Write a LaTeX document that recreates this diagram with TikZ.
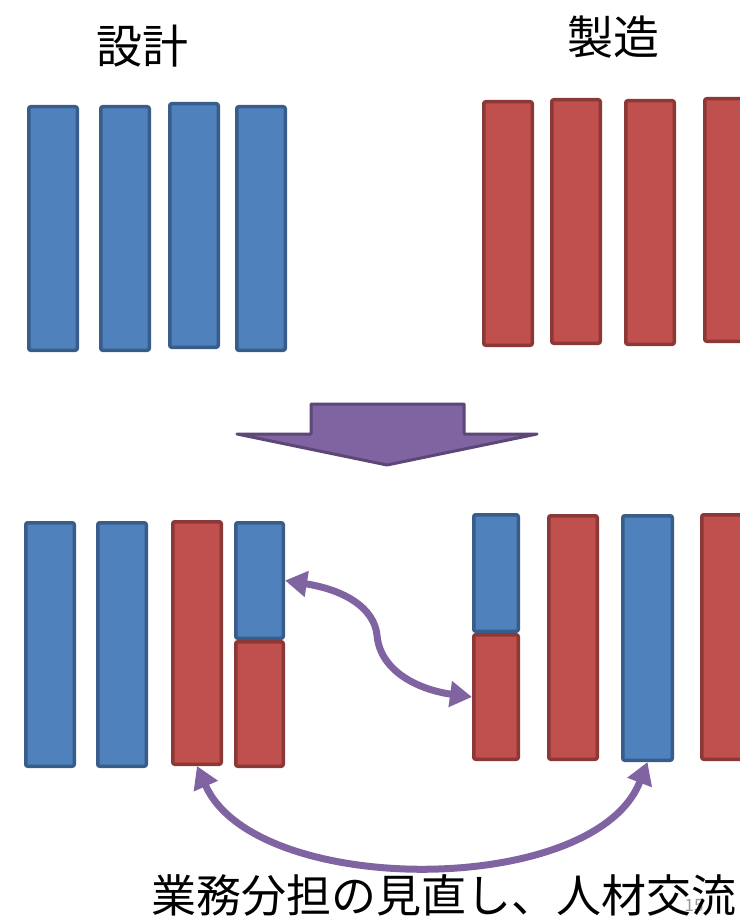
\documentclass[tikz,border=0pt]{standalone}
\usepackage{fontspec}
\newfontfamily\jpfont{Noto Sans CJK JP}
\usetikzlibrary{arrows.meta}
\definecolor{bfill}{HTML}{4F81BD}
\definecolor{bline}{HTML}{385D8A}
\definecolor{rfill}{HTML}{C0504D}
\definecolor{rline}{HTML}{8C3836}
\definecolor{pfill}{HTML}{8064A2}
\definecolor{pline}{HTML}{5C4776}
\tikzset{
  bar/.style={draw, line width=3.5pt, rounded corners=2pt, inner sep=0pt, minimum width=48.5pt},
  bluebar/.style={bar, fill=bfill, draw=bline},
  redbar/.style={bar, fill=rfill, draw=rline},
  titletext/.style={font=\jpfont\fontsize{46}{46}\selectfont, inner sep=0pt},
  swaparrow/.style={draw=pfill, line width=7pt,
    {Triangle[length=22pt,width=25pt]}-{Triangle[length=22pt,width=25pt]}},
  bigarrow/.style={fill=pfill, draw=pline, line width=3pt, line join=round},
}
\begin{document}
\begin{tikzpicture}[x=1pt,y=-1pt]
\useasboundingbox (0,0) rectangle (739,920);
% titles
\node[titletext] (tdesign) at (142,46) {設計};
\node[titletext] (tmanu) at (613,37) {製造};
% top blue bars
\node[bluebar, minimum height=243.5pt] (tb1) at (53,228.5) {};
\node[bluebar, minimum height=243.5pt] (tb2) at (125,228.5) {};
\node[bluebar, minimum height=243.5pt] (tb3) at (194,225.5) {};
\node[bluebar, minimum height=243.5pt] (tb4) at (261,228.5) {};
% top red bars
\node[redbar, minimum height=243.5pt] (tr1) at (508,223.5) {};
\node[redbar, minimum height=243.5pt] (tr2) at (576,221.5) {};
\node[redbar, minimum height=243.5pt] (tr3) at (650,222.5) {};
\node[redbar, minimum height=242.5pt] (tr4) at (729,220) {};
% big arrow
\path[bigarrow] (311,404) -- (464,404) -- (464,434) -- (537,434) -- (387,465)
  -- (237,434) -- (311,434) -- cycle;
% bottom left bars
\node[bluebar, minimum height=243.5pt] (bb1) at (50,644.5) {};
\node[bluebar, minimum height=243.5pt] (bb2) at (122,644.5) {};
\node[redbar, minimum height=242.5pt] (bb3) at (197,643) {};
\node[bluebar, minimum height=115.5pt, minimum width=47.5pt] (bb4t) at (259.5,580.5) {};
\node[redbar, minimum height=124.5pt, minimum width=47.5pt] (bb4b) at (259.5,704) {};
% bottom right bars
\node[bluebar, minimum height=116.5pt, minimum width=44.5pt] (br1t) at (496,573) {};
\node[redbar, minimum height=124.5pt, minimum width=44.5pt] (br1b) at (496,697) {};
\node[redbar, minimum height=243.5pt] (br2) at (573,637.5) {};
\node[bluebar, minimum height=244.5pt, minimum width=49.5pt] (br3) at (647.5,638) {};
\node[redbar, minimum height=244.5pt] (br4) at (726,637) {};
% exchange arrows
\draw[swaparrow] (bb4t.east) .. controls (345,590) and (374,608) .. (377,635)
  .. controls (380,672) and (420,690) .. (br1b.west);
\draw[swaparrow] (bb3.south) .. controls (255,898) and (595,898) .. (br3.south);
% page number and caption
\node[font=\jpfont\fontsize{17}{17}\selectfont, text=black!40, inner sep=0pt] (pnum) at (694,906) {15};
\node[font=\jpfont\fontsize{45}{45}\selectfont, inner sep=0pt, anchor=west] (caption) at (151,895) {業務分担の見直し、人材交流};
\end{tikzpicture}
\end{document}
